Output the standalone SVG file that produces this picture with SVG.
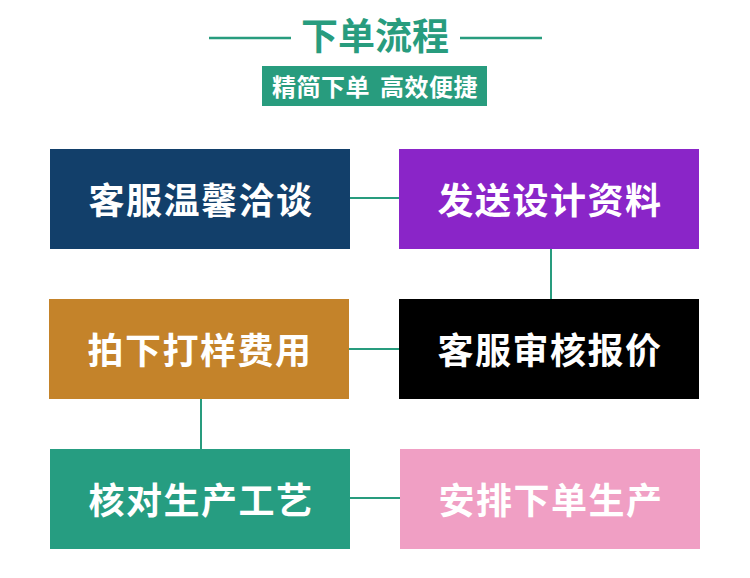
<svg xmlns="http://www.w3.org/2000/svg" width="750" height="578" viewBox="0 0 750 578">
<style>
.t{font-family:"Noto Sans CJK SC","Noto Sans CJK JP",sans-serif;font-weight:bold;fill:#fff;text-anchor:middle;dominant-baseline:central}
.bt{font-size:36px;letter-spacing:1.5px}
.ln{stroke:#289c7e;stroke-width:2;fill:none}
</style>
<rect width="750" height="578" fill="#fff"/>
<g id="title">
<line x1="209" y1="38" x2="291" y2="38" stroke="#289c7e" stroke-width="2.5"/>
<line x1="460" y1="38" x2="542" y2="38" stroke="#289c7e" stroke-width="2.5"/>
<text x="375" y="34" class="t" style="font-size:37px;fill:#289c7e">下单流程</text>
<rect x="262" y="66" width="225" height="40" fill="#289c7e"/>
<text x="375" y="85" class="t" style="font-size:24px;letter-spacing:0.5px;word-spacing:4px">精简下单 高效便捷</text>
</g>
<g id="connectors">
<line class="ln" x1="350" y1="198" x2="399" y2="198"/>
<line class="ln" x1="551" y1="249" x2="551" y2="299"/>
<line class="ln" x1="349" y1="349" x2="399" y2="349"/>
<line class="ln" x1="201" y1="399" x2="201" y2="449"/>
<line class="ln" x1="350" y1="498" x2="400" y2="498"/>
</g>
<g id="n1"><rect x="50" y="149" width="300" height="100" fill="#123f6a"/><text x="201" y="198" class="t bt">客服温馨洽谈</text></g>
<g id="n2"><rect x="399" y="149" width="300" height="100" fill="#8a25c8"/><text x="550" y="198" class="t bt">发送设计资料</text></g>
<g id="n3"><rect x="399" y="299" width="300" height="100" fill="#000"/><text x="550" y="348" class="t bt">客服审核报价</text></g>
<g id="n4"><rect x="49" y="299" width="300" height="100" fill="#c4832a"/><text x="200" y="348" class="t bt">拍下打样费用</text></g>
<g id="n5"><rect x="50" y="449" width="300" height="100" fill="#269d81"/><text x="201" y="498" class="t bt">核对生产工艺</text></g>
<g id="n6"><rect x="400" y="449" width="300" height="100" fill="#f09fc4"/><text x="551" y="498" class="t bt">安排下单生产</text></g>
</svg>
